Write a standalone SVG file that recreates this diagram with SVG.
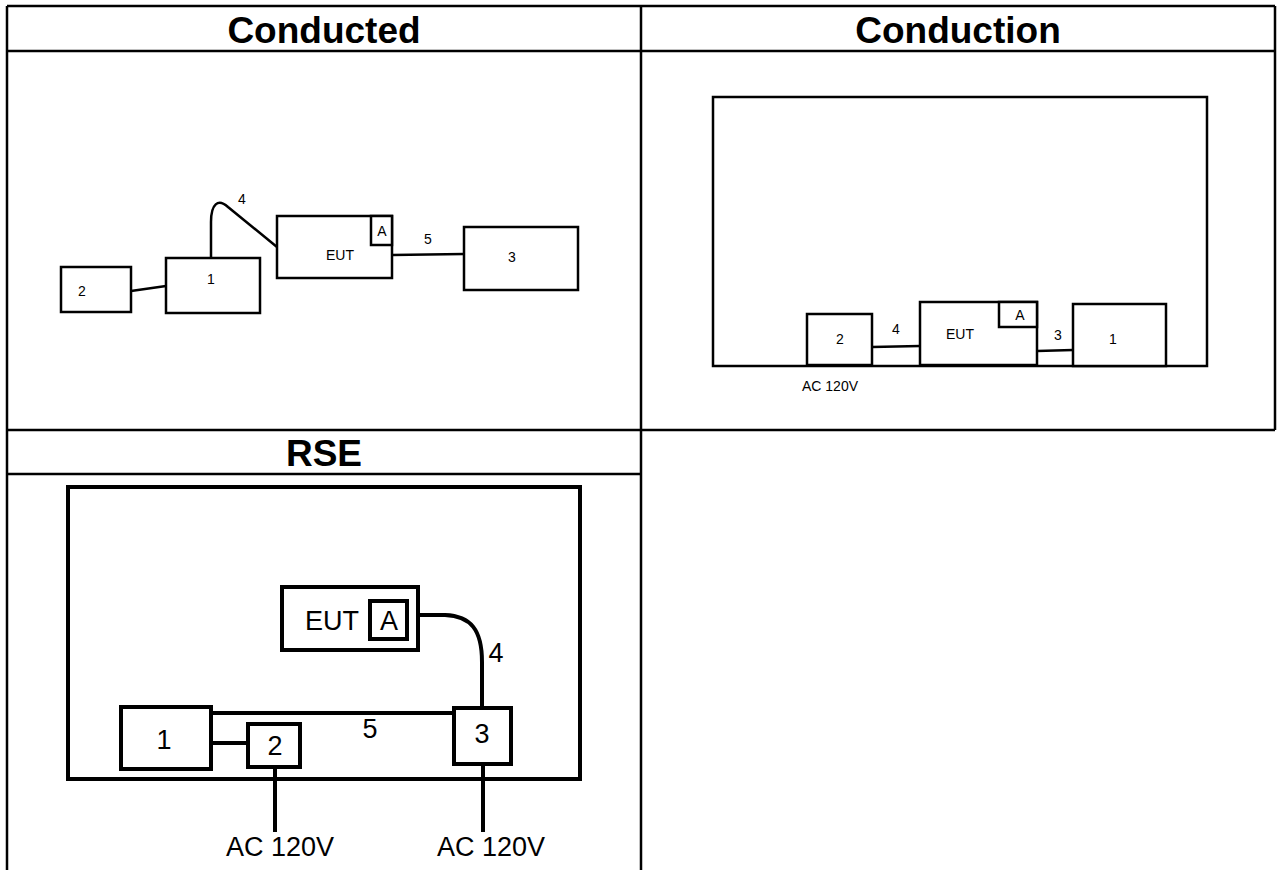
<svg xmlns="http://www.w3.org/2000/svg" width="1277" height="870" viewBox="0 0 1277 870">
<style>
.grid{stroke:#000;stroke-width:2.5;fill:none}
.hdr{font-family:"Liberation Sans",Arial,sans-serif;font-weight:bold;font-size:37px;text-anchor:middle;fill:#000}
.b1{fill:#fff;stroke:#000;stroke-width:2.5}
.w1{stroke:#000;stroke-width:2.5;fill:none}
.t1{font-family:"Liberation Sans",Arial,sans-serif;font-size:14px;text-anchor:middle;dominant-baseline:central;fill:#000}
.b3{fill:#fff;stroke:#000;stroke-width:4}
.w3{stroke:#000;stroke-width:4;fill:none}
.t3{font-family:"Liberation Sans",Arial,sans-serif;font-size:27px;text-anchor:middle;dominant-baseline:central;fill:#000}
</style>
<rect width="1277" height="870" fill="#fff"/>
<g id="table">
<path class="grid" d="M7,6 H1275 M7,51 H1275 M7,430 H1275 M7,474 H641 M7,6 V870 M641,6 V870 M1275,6 V430"/>
<text class="hdr" x="324" y="43">Conducted</text>
<text class="hdr" x="958" y="43">Conduction</text>
<text class="hdr" x="324" y="466">RSE</text>
</g>
<g id="conducted">
<g id="cd-connectors">
<path class="w1" d="M131,291 L166,286"/>
<path class="w1" d="M392,255 L464,254"/>
<path class="w1" d="M211,257 L211,222 C211,204 218,198 228,207 L277,247"/>
<text class="t1" x="242" y="199">4</text>
<text class="t1" x="428" y="239">5</text>
</g>
<g id="cd-n2"><rect class="b1" x="61" y="267" width="70" height="45"/><text class="t1" x="82" y="291">2</text></g>
<g id="cd-n1"><rect class="b1" x="166" y="258" width="94" height="55"/><text class="t1" x="211" y="279">1</text></g>
<g id="cd-eut"><rect class="b1" x="277" y="216" width="115" height="62"/><text class="t1" x="340" y="255">EUT</text></g>
<g id="cd-a"><rect class="b1" x="371" y="216" width="21" height="29"/><text class="t1" x="382" y="231">A</text></g>
<g id="cd-n3"><rect class="b1" x="464" y="227" width="114" height="63"/><text class="t1" x="512" y="257">3</text></g>
</g>
<g id="conduction">
<g id="cn-room"><rect class="b1" x="713" y="97" width="494" height="269"/></g>
<g id="cn-connectors">
<path class="w1" d="M872,347 L920,346"/>
<path class="w1" d="M1037,351 L1073,350"/>
<text class="t1" x="896" y="329">4</text>
<text class="t1" x="1058" y="335">3</text>
</g>
<g id="cn-n2"><rect class="b1" x="807" y="314" width="65" height="51"/><text class="t1" x="840" y="339">2</text></g>
<g id="cn-eut"><rect class="b1" x="920" y="302" width="117" height="63"/><text class="t1" x="960" y="334">EUT</text></g>
<g id="cn-a"><rect class="b1" x="999" y="302" width="38" height="25"/><text class="t1" x="1020" y="315">A</text></g>
<g id="cn-n1"><rect class="b1" x="1073" y="304" width="93" height="62"/><text class="t1" x="1113" y="339">1</text></g>
<text class="t1" x="830" y="386">AC 120V</text>
</g>
<g id="rse">
<g id="rs-room"><rect class="b3" x="68" y="487" width="512" height="292" fill="none"/></g>
<g id="rs-connectors">
<path class="w3" d="M418,615 L445,615 C471,616 482,630 482,662 L482,707"/>
<path class="w3" d="M211,713 L453,713"/>
<path class="w3" d="M211,743 L247,743"/>
<path class="w3" d="M275,767 L275,832"/>
<path class="w3" d="M483,764 L483,832"/>
<text class="t3" x="496" y="653">4</text>
<text class="t3" x="370" y="729">5</text>
</g>
<g id="rs-eut"><rect class="b3" x="282" y="587" width="136" height="63"/><text class="t3" x="332" y="621">EUT</text></g>
<g id="rs-a"><rect class="b3" x="370" y="601" width="37" height="38"/><text class="t3" x="389" y="621">A</text></g>
<g id="rs-n1"><rect class="b3" x="121" y="707" width="90" height="62"/><text class="t3" x="164" y="740">1</text></g>
<g id="rs-n2"><rect class="b3" x="248" y="724" width="52" height="43"/><text class="t3" x="275" y="746">2</text></g>
<g id="rs-n3"><rect class="b3" x="454" y="708" width="57" height="56"/><text class="t3" x="482" y="734">3</text></g>
<text class="t3" x="280" y="847">AC 120V</text>
<text class="t3" x="491" y="847">AC 120V</text>
</g>
</svg>
